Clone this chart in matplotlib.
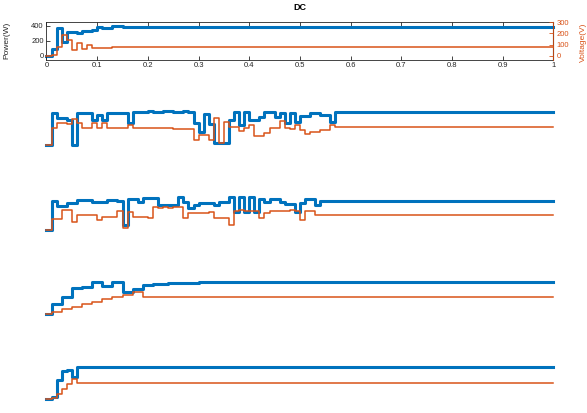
import numpy as np
import matplotlib
matplotlib.use("Agg")
from matplotlib import pyplot as plt

plt.rcParams['font.family'] = ['Liberation Sans', 'DejaVu Sans']

BLUE = '#0072BD'
ORANGE = '#D95319'

# step values, one per 0.01 s, last value held until t = 1
p1_power = [0, 86, 366, 187, 321, 321, 299, 330, 330, 343, 387, 366, 366, 397, 397, 387]
p1_volt = [0, 5, 80, 184, 140, 51, 110, 57, 95, 72, 72, 66, 66, 75]

p2_power = [0, 420, 355, 355, 335, 0, 420, 420, 420, 335, 400, 335, 420, 420, 420, 420,
            290, 440, 435, 440, 445, 440, 440, 445, 445, 440, 440, 445, 440,
            290, 170, 415, 280, 20, 20, 20, 335, 440, 265, 440, 335, 335, 375, 440, 440,
            375, 420, 295, 425, 305, 380, 380, 425, 425, 400, 400, 305, 440]
p2_volt = [0, 150, 195, 195, 185, 230, 195, 150, 150, 195, 150, 195, 150, 150, 150, 150,
           178, 148, 147, 146, 146, 145, 145, 144, 144, 143, 143, 142, 142,
           45, 90, 90, 45, 235, 15, 200, 160, 160, 120, 150, 178, 75, 75, 105, 150,
           150, 210, 150, 135, 178, 133, 98, 115, 115, 133, 133, 178, 157]

p3_power = [0, 385, 320, 320, 355, 365, 400, 400, 400, 380, 375, 375, 400, 400, 385, 65,
            415, 415, 375, 430, 430, 430, 335, 335, 335, 335, 440, 375, 290, 335, 365,
            355, 355, 335, 375, 375, 440, 245, 440, 245, 440, 245, 420, 375, 420, 420,
            375, 345, 345, 245, 355, 420, 420, 335, 385]
p3_volt = [0, 95, 95, 175, 175, 75, 130, 130, 130, 130, 85, 120, 120, 120, 165, 15,
           160, 120, 120, 120, 105, 205, 200, 205, 200, 205, 205, 105, 150, 155, 155,
           155, 160, 105, 105, 105, 45, 165, 178, 165, 165, 165, 105, 150, 165, 165,
           165, 165, 178, 165, 90, 165, 165, 133, 133]

p4_power = [0, 137, 137, 227, 227, 347, 347, 369, 369, 436, 436, 377, 377, 436, 436,
            303, 303, 333, 333, 390, 395, 400, 404, 408, 411, 414, 417, 419, 421, 423,
            425, 426, 427, 428, 429, 430, 431, 431, 432, 432, 433, 433, 434, 434, 435]
p4_volt = [0, 24, 24, 45, 45, 62, 62, 89, 89, 110, 110, 133, 133, 151, 151, 175, 175,
           196, 196, 157, 156, 155, 154, 153, 153, 152, 152, 151, 151, 150]

p5_power = [0, 27, 257, 377, 390, 303, 427]
p5_volt = [0, 9, 45, 89, 133, 178, 148]

panels = [(p1_power, p1_volt), (p2_power, p2_volt), (p3_power, p3_volt),
          (p4_power, p4_volt), (p5_power, p5_volt)]


def stairs(vals):
    t = list(np.arange(len(vals)) * 0.01) + [1.0]
    return t, list(vals) + [vals[-1]]


fig = plt.figure(figsize=(5.87, 4.13), dpi=100)

left, width, height = 0.0792, 0.8637, 0.0908
bottoms = [0.8559, 0.6406, 0.4340, 0.2299, 0.0241]

for k, (pw, vt) in enumerate(panels):
    ax = fig.add_axes([left, bottoms[k], width, height])
    ax2 = ax.twinx()
    t, v = stairs(pw)
    ax.step(t, v, where='post', color=BLUE, lw=2.2, clip_on=False)
    t, v = stairs(vt)
    ax2.step(t, v, where='post', color=ORANGE, lw=1.1, clip_on=False)
    ax.set_xlim(0, 1)
    ax.set_ylim(-50, 450)
    ax2.set_ylim(-33.3, 300)

    if k == 0:
        ax.set_title('DC', fontweight='bold', fontsize=6.5, pad=9)
        ax.set_xticks(np.arange(0, 1.01, 0.1))
        ax.set_xticklabels(['0', '0.1', '0.2', '0.3', '0.4', '0.5', '0.6', '0.7', '0.8', '0.9', '1'])
        ax.set_yticks([0, 200, 400])
        ax2.set_yticks([0, 100, 200, 300])
        ax.tick_params(direction='in', length=3, width=0.6, labelsize=5.5, pad=2,
                       top=True, colors='#262626')
        ax2.tick_params(direction='in', length=3, width=0.6, labelsize=5.5, pad=2,
                        colors=ORANGE)
        for s in ['left', 'top', 'bottom']:
            ax.spines[s].set_color('#262626')
            ax.spines[s].set_linewidth(0.6)
        ax2.spines['right'].set_color(ORANGE)
        ax2.spines['right'].set_linewidth(0.6)
        for s in ['left', 'top', 'bottom']:
            ax2.spines[s].set_visible(False)
        ax.set_ylabel('Power(W)', fontsize=6, color='#262626')
        ax.yaxis.set_label_coords(-0.072, 0.52)
        ax2.set_ylabel('Voltage(V)', fontsize=6, color=ORANGE)
        ax2.yaxis.set_label_coords(1.052, 0.45)
    else:
        ax.axis('off')
        ax2.axis('off')

fig.savefig('out.png', dpi=100)
